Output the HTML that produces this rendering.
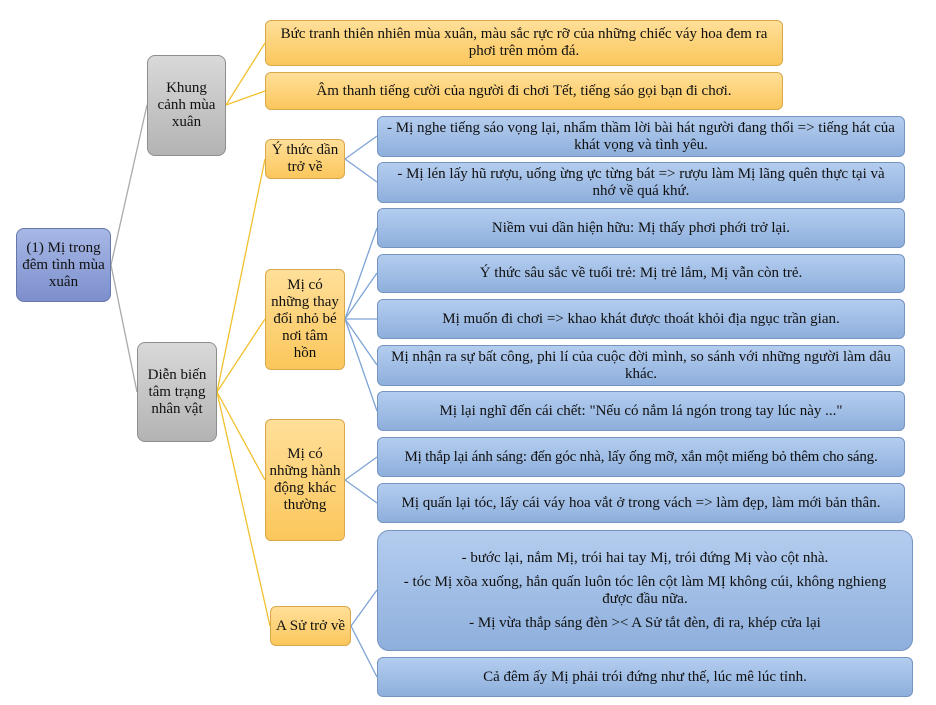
<!DOCTYPE html>
<html><head><meta charset="utf-8"><style>
body{margin:0;width:936px;height:705px;background:#fff;position:relative;overflow:hidden;font-family:"Liberation Serif",serif;font-size:15px;color:#111}
.b{position:absolute;box-sizing:border-box;display:flex;align-items:center;justify-content:center;text-align:center;line-height:17px;border-radius:6px;padding:2px 7px}
.o{background:linear-gradient(#ffdf99,#fbc75c);border:1px solid #d9a84a}
.u{background:linear-gradient(#b4cdef,#8eafdc);border:1px solid #7594c0}
.g{background:linear-gradient(#d9d9d9,#b3b3b3);border:1px solid #8e8e8e;border-radius:8px}
.r{background:linear-gradient(#a7b8e6,#7c8fcc);border:1px solid #6677aa;border-radius:8px}
.s{padding:2px 2px}
svg{position:absolute;left:0;top:0}
</style></head><body>
<svg width="936" height="705">
<g stroke="#aaa" stroke-width="1.3" fill="none">
<line x1="111" y1="265" x2="147" y2="105"/><line x1="111" y1="265" x2="137" y2="392"/></g>
<g stroke="#f2c12e" stroke-width="1.3">
<line x1="226" y1="105" x2="265" y2="43"/><line x1="226" y1="105" x2="265" y2="91"/>
<line x1="217" y1="392" x2="265" y2="159"/><line x1="217" y1="392" x2="265" y2="319"/>
<line x1="217" y1="392" x2="265" y2="480"/><line x1="217" y1="392" x2="270" y2="626"/></g>
<g stroke="#7ea3d6" stroke-width="1.3">
<line x1="345" y1="159" x2="377" y2="136"/><line x1="345" y1="159" x2="377" y2="182"/>
<line x1="345" y1="319" x2="377" y2="228"/><line x1="345" y1="319" x2="377" y2="273"/>
<line x1="345" y1="319" x2="377" y2="319"/><line x1="345" y1="319" x2="377" y2="365"/>
<line x1="345" y1="319" x2="377" y2="411"/>
<line x1="345" y1="480" x2="377" y2="457"/><line x1="345" y1="480" x2="377" y2="503"/>
<line x1="351" y1="626" x2="377" y2="590"/><line x1="351" y1="626" x2="377" y2="677"/></g>
</svg>
<div class="b r s" style="left:16px;top:228px;width:95px;height:74px">(1) Mị trong đêm tình mùa xuân</div>
<div class="b g" style="left:147px;top:55px;width:79px;height:101px;padding:2px 4px">Khung cảnh mùa xuân</div>
<div class="b g" style="left:137px;top:342px;width:80px;height:100px;padding:2px 8px">Diễn biến tâm trạng nhân vật</div>
<div class="b o" style="left:265px;top:20px;width:518px;height:46px">Bức tranh thiên nhiên mùa xuân, màu sắc rực rỡ của những chiếc váy hoa đem ra phơi trên mỏm đá.</div>
<div class="b o" style="left:265px;top:72px;width:518px;height:38px">Âm thanh tiếng cười của người đi chơi Tết, tiếng sáo gọi bạn đi chơi.</div>
<div class="b o s" style="left:265px;top:139px;width:80px;height:40px">Ý thức dần trở về</div>
<div class="b o s" style="left:265px;top:269px;width:80px;height:101px;padding:2px 3px">Mị có những thay đổi nhỏ bé nơi tâm hồn</div>
<div class="b o s" style="left:265px;top:419px;width:80px;height:122px">Mị có những hành động khác thường</div>
<div class="b o s" style="left:270px;top:606px;width:81px;height:40px">A Sử trở về</div>
<div class="b u" style="left:377px;top:116px;width:528px;height:41px">- Mị nghe tiếng sáo vọng lại, nhẩm thầm lời bài hát người đang thổi =&gt; tiếng hát của khát vọng và tình yêu.</div>
<div class="b u" style="left:377px;top:162px;width:528px;height:41px">- Mị lén lấy hũ rượu, uống ừng ực từng bát =&gt; rượu làm Mị lãng quên thực tại và nhớ về quá khứ.</div>
<div class="b u" style="left:377px;top:208px;width:528px;height:40px">Niềm vui dần hiện hữu: Mị thấy phơi phới trở lại.</div>
<div class="b u" style="left:377px;top:254px;width:528px;height:39px">Ý thức sâu sắc về tuổi trẻ: Mị trẻ lắm, Mị vẫn còn trẻ.</div>
<div class="b u" style="left:377px;top:299px;width:528px;height:40px">Mị muốn đi chơi =&gt; khao khát được thoát khỏi địa ngục trần gian.</div>
<div class="b u" style="left:377px;top:345px;width:528px;height:41px;padding:2px 12px">Mị nhận ra sự bất công, phi lí của cuộc đời mình, so sánh với những người làm dâu khác.</div>
<div class="b u" style="left:377px;top:391px;width:528px;height:40px">Mị lại nghĩ đến cái chết: "Nếu có nắm lá ngón trong tay lúc này ..."</div>
<div class="b u" style="left:377px;top:437px;width:528px;height:40px;padding:2px 1px;letter-spacing:-0.2px">Mị thắp lại ánh sáng: đến góc nhà, lấy ống mỡ, xắn một miếng bỏ thêm cho sáng.</div>
<div class="b u" style="left:377px;top:483px;width:528px;height:40px">Mị quấn lại tóc, lấy cái váy hoa vắt ở trong vách =&gt; làm đẹp, làm mới bản thân.</div>
<div class="b u" style="left:377px;top:530px;width:536px;height:121px;border-radius:12px;flex-direction:column;gap:7px;padding:2px 10px"><div>- bước lại, nắm Mị, trói hai tay Mị, trói đứng Mị vào cột nhà.</div><div>- tóc Mị xõa xuống, hắn quấn luôn tóc lên cột làm MỊ không cúi, không nghieng được đầu nữa.</div><div>- Mị vừa thắp sáng đèn &gt;&lt; A Sử tắt đèn, đi ra, khép cửa lại</div></div>
<div class="b u" style="left:377px;top:657px;width:536px;height:40px">Cả đêm ấy Mị phải trói đứng như thế, lúc mê lúc tỉnh.</div>
</body></html>
